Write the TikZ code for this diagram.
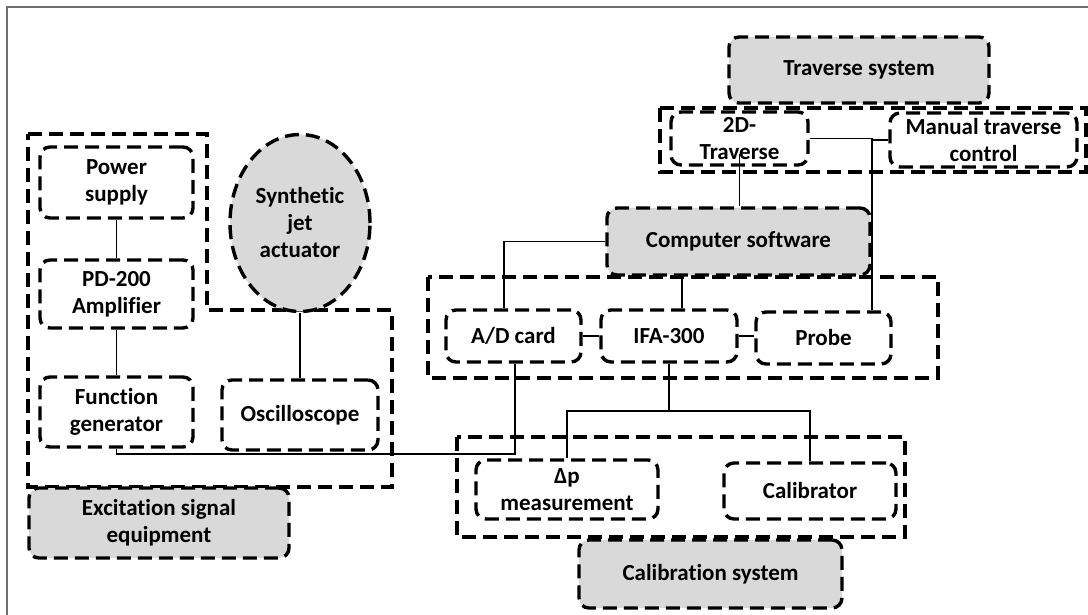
\documentclass[tikz,border=0pt]{standalone}
\usepackage{fontspec}
\setmainfont{Carlito}[Ligatures=NoCommon]
\usetikzlibrary{shapes.geometric,calc}

\definecolor{boxgray}{RGB}{217,217,217}
\definecolor{framegray}{RGB}{110,110,110}

\tikzset{
	dashbox/.style={draw, line width=3.4pt, dash pattern=on 14pt off 7pt},
	unit/.style={dashbox, rounded corners=10pt, align=center, inner sep=0pt,
		font=\bfseries\fontsize{23}{27}\selectfont},
	title/.style={unit, fill=boxgray},
	wire/.style={draw, line width=1.3pt},
}

\begin{document}
\begin{tikzpicture}[x=1pt, y=-1pt]
			\useasboundingbox (0,0) rectangle (1088,615);
			\draw[framegray, line width=2pt] (7,615) -- (7,7) -- (1088,7);

			% groups
			\draw[dashbox] (28,134) -- (207,134) -- (207,310) -- (392,310) -- (392,487) -- (28,487) -- cycle;
			\draw[dashbox] (660,108) rectangle (1086,172);
			\draw[dashbox] (428,277) rectangle (938,378);
			\draw[dashbox] (457,437) rectangle (905,537);

			% excitation signal side
			\node[unit, minimum width=153, minimum height=71] (power) at (116.5,182.5) {Power\\supply};
			\node[unit, minimum width=153, minimum height=68] (amp) at (116.5,294) {PD-200\\Amplifier};
			\node[unit, minimum width=153, minimum height=70] (func) at (116.5,412) {Function\\generator};
			\node[unit, minimum width=156, minimum height=70] (osc) at (300,415) {Oscilloscope};
			\node[unit, ellipse, fill=boxgray, minimum width=140, minimum height=177] (jet) at (300,223) {Synthetic\\jet\\actuator};
			\node[title, minimum width=260, minimum height=70] (excit) at (159,523) {Excitation signal\\equipment};

			% traverse system
			\node[title, minimum width=260, minimum height=66] (travsys) at (859,70) {Traverse system};
			\node[unit, minimum width=137, minimum height=53] (trav2d) at (739.5,138.5) {2D-\\Traverse};
			\node[unit, minimum width=187, minimum height=54] (manual) at (983.5,140) {Manual traverse\\control};

			% measurement chain
			\node[title, minimum width=263, minimum height=67] (computer) at (738.5,241.5) {Computer software};
			\node[unit, minimum width=135, minimum height=52] (adcard) at (513.5,336) {A/D card};
			\node[unit, minimum width=136, minimum height=52] (ifa) at (669,336) {IFA-300};
			\node[unit, minimum width=135, minimum height=52] (probe) at (823.5,338) {Probe};

			% calibration system
			\node[unit, minimum width=182, minimum height=59] (dp) at (567,489.5) {Δp\\measurement};
			\node[unit, minimum width=172, minimum height=56] (calibrator) at (810,491) {Calibrator};
			\node[title, minimum width=263, minimum height=68] (calsys) at (710.5,574) {Calibration system};

			% connections
			\coordinate (busA) at (515,454);
			\coordinate (tj) at (872,140);
			\coordinate (split) at (669,411);
			\draw[wire] (power.south) -- (amp.north);
			\draw[wire] (amp.south) -- (func.north);
			\draw[wire] (jet.south) -- (osc.north);
			\draw[wire] (func.south) |- (busA) -- (busA |- adcard.south);
			\draw[wire] (computer.west) -| ($(adcard.north)+(-9.5,0)$);
			\draw[wire] ($(ifa.north)+(13,0)$) -- ($(ifa.north |- computer.south)+(13,0)$);
			\draw[wire] (adcard.east) -- (ifa.west);
			\draw[wire] (ifa.east) -- (ifa.east -| probe.west);
			\draw[wire] (ifa.south) -- (split);
			\draw[wire] (dp.north) |- (split) -| (calibrator.north);
			\draw[wire] ([yshift=13pt]trav2d.south) -- (trav2d.south |- computer.north);
			\draw[wire] (trav2d.east) -- (trav2d.east -| tj) -- (tj |- probe.north);
			\draw[wire] (manual.west) -- (manual.west -| tj);
\end{tikzpicture}
\end{document}
